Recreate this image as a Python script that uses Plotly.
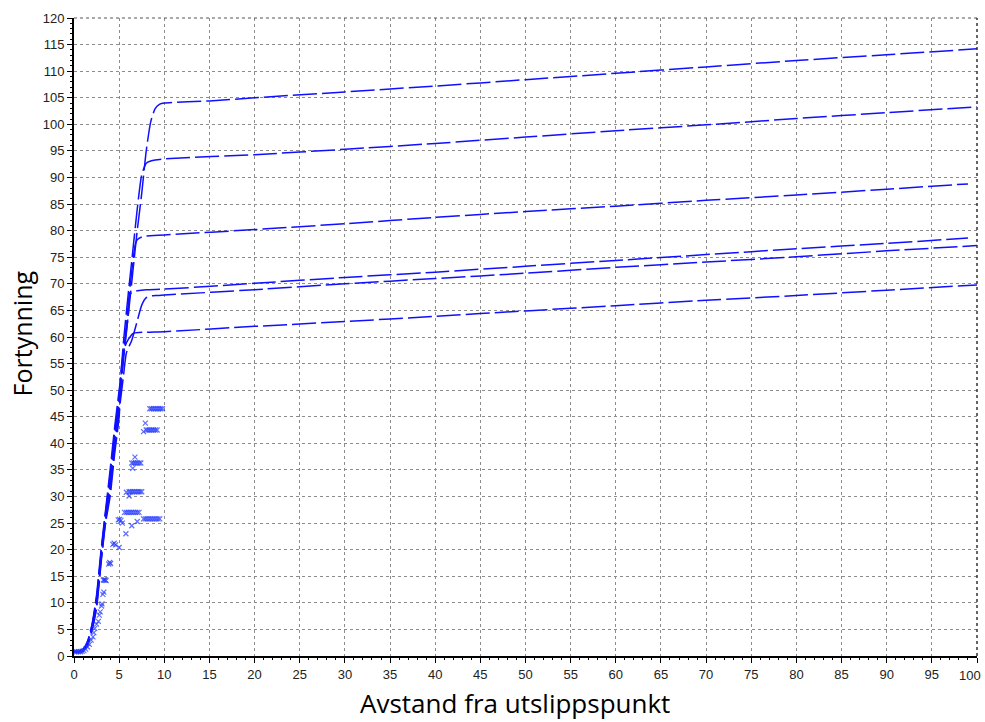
import plotly.graph_objects as go

# ---- data ----
x_rise = [0, 0.5, 1.0, 1.5, 2.0, 2.5, 3.0, 3.5, 4.0, 4.5, 5.0]

xA = x_rise + [5.5, 6.0, 6.5, 7.0, 7.5, 8.0, 8.5, 9.0, 9.5, 10, 15, 20, 30, 40, 50, 60, 70, 80, 90, 100]
yA = [0.9, 0.9, 1.3, 2.8, 6.0, 11.5, 20, 27.5, 35, 43, 50,
      57, 64, 72, 80, 87, 95, 100.5, 103, 103.8, 104.0, 104.4, 105.0, 106.1, 107.2, 108.4, 109.6, 110.8, 112.0, 113.1, 114.2]

xB = x_rise + [5.5, 6.0, 6.5, 7.0, 7.5, 8.0, 8.5, 9.0, 10, 20, 30, 40, 50, 60, 70, 80, 90, 100]
yB = [0.9, 0.9, 1.2, 2.6, 5.8, 11, 19.5, 27, 34, 42, 49,
      59.5, 68, 76, 84, 90.5, 92.7, 93.1, 93.3, 93.5, 94.3, 95.3, 96.4, 97.6, 98.8, 99.9, 101.1, 102.2, 103.3]

xC = x_rise + [5.5, 6.0, 6.5, 6.8, 7.0, 7.5, 8.0, 10, 20, 30, 40, 50, 60, 70, 80, 90, 99]
yC = [0.8, 0.8, 1.1, 2.4, 5.5, 10.5, 19, 26.5, 33, 41, 48,
      57, 66, 74, 77.5, 78.3, 78.8, 79.0, 79.2, 80.2, 81.3, 82.5, 83.6, 84.6, 85.7, 86.7, 87.8, 88.8]

xD = x_rise + [5.5, 6.0, 6.2, 6.5, 7.0, 8.0, 10, 20, 30, 40, 50, 60, 70, 80, 90, 99]
yD = [0.8, 0.8, 1.0, 2.3, 5.2, 10, 18.5, 26, 32, 40, 47,
      56, 64, 68.0, 68.5, 68.7, 68.9, 69.0, 70.1, 71.2, 72.2, 73.3, 74.4, 75.5, 76.6, 77.6, 78.6]

xE = x_rise + [5.5, 5.8, 6.4, 7.0, 7.5, 8.0, 8.5, 9.0, 10, 20, 30, 40, 50, 60, 70, 80, 90, 100]
yE = [0.7, 0.7, 0.9, 2.1, 5.0, 9.5, 18, 25.5, 31, 39, 46,
      53, 57, 59.4, 63, 66, 67.4, 67.7, 67.8, 67.9, 68.9, 70.0, 71.0, 72.0, 73.1, 74.1, 75.1, 76.2, 77.2]

xF = x_rise + [5.3, 5.65, 6.0, 6.6, 8.0, 10, 20, 30, 40, 50, 60, 70, 80, 90, 100]
yF = [0.7, 0.7, 0.9, 2.0, 4.8, 9.0, 17.5, 25, 30, 38, 45,
      55, 58.2, 59.5, 60.7, 60.9, 61.0, 62.0, 62.9, 63.9, 64.9, 65.9, 66.9, 67.8, 68.8, 69.8]

mark_x = [0.1, 0.3, 0.5, 0.7, 0.9, 1.1, 1.3, 1.5, 1.7, 1.9, 2.1, 2.2, 2.3, 2.5, 2.7, 2.8, 2.9, 3.05, 3.1, 3.2, 3.3,
          3.25, 3.35, 3.45, 3.55, 3.85, 3.95, 4.05, 4.3, 4.45, 4.6, 5.0, 4.9, 5.05, 5.2, 5.35, 5.75, 6.4,
          5.8, 6.1, 5.6, 5.8, 6.0, 6.2, 6.4, 6.6, 6.8, 7.0, 7.2,
          6.1, 6.3, 6.5, 6.7, 6.9, 7.1, 7.3, 7.5, 7.0, 6.5, 6.75,
          6.4, 6.6, 6.8, 7.0, 7.2, 7.4, 7.9, 7.7,
          8.0, 8.2, 8.4, 8.6, 8.8, 9.0, 9.2,
          8.4, 8.6, 8.8, 9.0, 9.2, 9.4, 9.6, 9.8,
          7.7, 7.9, 8.1, 8.3, 8.5, 8.7, 8.9, 9.1, 9.3, 9.5]
mark_y = [0.8, 0.8, 0.8, 0.8, 0.9, 1.0, 1.3, 1.7, 2.2, 3.0, 3.6, 4.4, 5.2, 6.0, 6.5, 7.7, 8.3, 9.4, 9.8, 11.6, 12.0,
          14.3, 14.3, 14.3, 14.2, 17.3, 17.6, 17.4, 21.0, 21.2, 20.9, 20.4, 25.6, 25.7, 25.5, 25.0, 23.0, 24.5,
          30.8, 30.1, 27.0, 27.0, 27.0, 27.0, 27.0, 27.0, 27.0, 27.0, 27.0,
          30.9, 30.9, 30.9, 30.9, 30.9, 30.9, 30.9, 30.9, 25.3, 35.3, 37.4,
          36.3, 36.3, 36.3, 36.3, 36.3, 36.3, 43.8, 42.2,
          42.5, 42.5, 42.5, 42.5, 42.5, 42.5, 42.5,
          46.5, 46.5, 46.5, 46.5, 46.5, 46.5, 46.5, 46.5,
          25.8, 25.8, 25.8, 25.8, 25.8, 25.8, 25.8, 25.8, 25.8, 25.8]

x_ticks = list(range(0, 101, 5))
y_ticks = list(range(0, 121, 5))

LINE_COLOR = "#1010ff"
fig = go.Figure()
for xs, ys in [(xA, yA), (xB, yB), (xC, yC), (xD, yD), (xE, yE), (xF, yF)]:
    fig.add_trace(go.Scatter(x=xs, y=ys, mode="lines",
                             line=dict(color=LINE_COLOR, width=1.5, dash="24px,5px", shape="spline", smoothing=0.6),
                             showlegend=False, hoverinfo="skip"))
fig.add_trace(go.Scatter(x=mark_x, y=mark_y, mode="markers",
                         marker=dict(symbol="x-thin", size=5,
                                     line=dict(color="rgba(40,60,255,0.75)", width=1.2)),
                         showlegend=False, hoverinfo="skip"))

tickfont = dict(family="Liberation Sans, Arial, sans-serif", size=13, color="#222")
grid = dict(showgrid=True, gridcolor="#8c8c8c", griddash="3px,3px", gridwidth=1, zeroline=False)

fig.update_xaxes(range=[0, 100], tickvals=x_ticks, ticks="outside", ticklen=5, tickcolor="#000",
                 showline=True, linecolor="#000", linewidth=2, tickfont=tickfont,
                 minor=dict(dtick=1, ticks="outside", ticklen=2, tickcolor="#000", showgrid=False), **grid)
fig.update_yaxes(range=[0, 120], tickvals=y_ticks, ticks="outside", ticklen=5, tickcolor="#000",
                 showline=True, linecolor="#000", linewidth=2, tickfont=tickfont,
                 minor=dict(dtick=1, ticks="outside", ticklen=2, tickcolor="#000", showgrid=False), **grid)

# dashed border on top and right
fig.add_shape(type="line", xref="paper", yref="paper", x0=0, x1=1, y0=1, y1=1,
              line=dict(color="#555", width=1, dash="3px,3px"))
fig.add_shape(type="line", xref="paper", yref="paper", x0=1, x1=1, y0=0, y1=1,
              line=dict(color="#333", width=1.5, dash="3px,3px"))

# last x tick label, kept inside the figure edge
fig.add_annotation(text=str(x_ticks[-1]), x=x_ticks[-1], xref="x", yref="paper", y=-0.015,
                   yanchor="top", xanchor="right", xshift=6, showarrow=False, font=tickfont)

fig.add_annotation(text="Avstand fra utslippspunkt", xref="paper", yref="paper",
                   x=0.488, y=-0.074, yanchor="middle", showarrow=False,
                   font=dict(family="Open Sans, Noto Sans, sans-serif", size=26, color="#000"))
fig.add_annotation(text="Fortynning", xref="paper", yref="paper", textangle=-90,
                   x=-0.058, y=0.505, xanchor="center", showarrow=False,
                   font=dict(family="Open Sans, Noto Sans, sans-serif", size=25, color="#000"))

fig.update_layout(width=985, height=722, margin=dict(l=74, r=8, t=18, b=66),
                  plot_bgcolor="white", paper_bgcolor="white")

fig.write_html("out.html", config={"displayModeBar": False},
               post_script="document.body.style.margin='0px';")
